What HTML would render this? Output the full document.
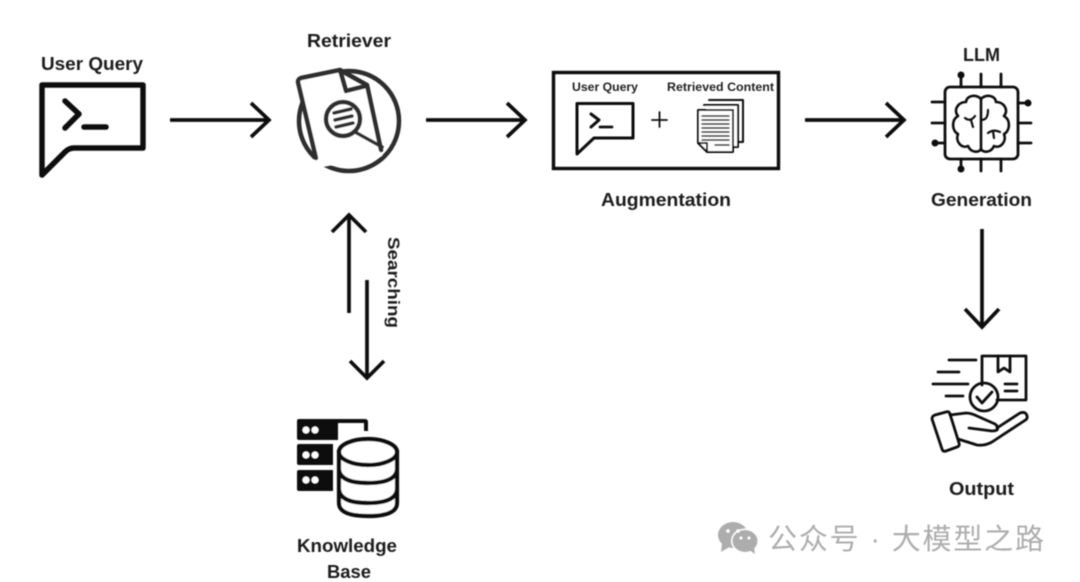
<!DOCTYPE html>
<html lang="en">
<head>
<meta charset="utf-8">
<title>RAG diagram</title>
<style>
html,body{margin:0;padding:0;background:#fff;width:1080px;height:582px;overflow:hidden}
svg{display:block}
.l{font-family:"Liberation Sans",sans-serif;font-weight:700;fill:#1c1c1c;font-size:18px}
.s{font-family:"Liberation Sans",sans-serif;font-weight:700;fill:#222;font-size:11.5px}
.w{font-family:"Liberation Sans","Noto Sans CJK SC",sans-serif;fill:#adadad;font-size:29px}
</style>
</head>
<body>
<svg width="1080" height="582" viewBox="0 0 1080 582" xmlns="http://www.w3.org/2000/svg">
<defs><filter id="b" x="-2%" y="-2%" width="104%" height="104%"><feGaussianBlur stdDeviation="0.45"/></filter></defs>
<rect width="1080" height="582" fill="#fff"/>
<g filter="url(#b)">
<!-- labels -->
<text class="l" x="41" y="70" textLength="102" lengthAdjust="spacingAndGlyphs">User Query</text>
<text class="l" x="307" y="47" textLength="84" lengthAdjust="spacingAndGlyphs">Retriever</text>
<text class="l" x="963" y="61" textLength="37" lengthAdjust="spacingAndGlyphs">LLM</text>
<text class="l" x="601" y="206" textLength="130" lengthAdjust="spacingAndGlyphs">Augmentation</text>
<text class="l" x="931" y="206" textLength="101" lengthAdjust="spacingAndGlyphs">Generation</text>
<text class="l" x="949" y="495" textLength="65" lengthAdjust="spacingAndGlyphs">Output</text>
<text class="l" x="297" y="552" textLength="100" lengthAdjust="spacingAndGlyphs">Knowledge</text>
<text class="l" x="327" y="578" textLength="44" lengthAdjust="spacingAndGlyphs">Base</text>
<text class="l" transform="translate(388,237) rotate(90)" textLength="91" lengthAdjust="spacingAndGlyphs" style="font-size:17px">Searching</text>

<!-- user query icon -->
<g fill="none" stroke="#111" stroke-linejoin="round" stroke-linecap="round">
<path d="M42 85H143V148H74Q69 148 65 152L42 175Z" stroke-width="5.500"/>
<path d="M65 101L79 114L65 128" stroke-width="5.500"/>
<path d="M84 127H106" stroke-width="5.500"/>
</g>

<!-- main arrows -->
<g fill="none" stroke="#111" stroke-width="3.700">
<path d="M170 120H269M251 103L269 120L251 137"/>
<path d="M426 120H525M507 103L525 120L507 137"/>
<path d="M805 120H904M886 103L904 120L886 137"/>
<path d="M982 229V327M965 309L982 327L999 309"/>
<path d="M349 313V215M332 232L349 215L366 232"/>
<path d="M367 280V378M350 361L367 378L384 361"/>
</g>

<!-- retriever -->
<g fill="none" stroke="#2f2f2f" stroke-linejoin="round" stroke-linecap="round">
<circle cx="349" cy="121" r="50" stroke-width="4.500"/>
<path d="M301 78L340 70L346 91L366 85L382 156L316 168L298 82Q298 79 301 78Z" fill="#fff" stroke="none"/>
<path d="M316 158L298 82Q298 79 301 78L340 70L367 85L381 150" stroke-width="4.500"/>
<path d="M340 70L346 91L366 86" stroke-width="4.500"/>
<circle cx="343" cy="119" r="17" stroke-width="4.500"/>
<path d="M334 113L351 109M335 120L352 116M336 127L353 123" stroke-width="3.500"/>
<path d="M355 132L382 147" stroke-width="3.500"/>
</g>

<!-- augmentation box -->
<rect x="553.500" y="72.500" width="225" height="96" fill="none" stroke="#111" stroke-width="3.400"/>
<text class="s" x="572" y="91" textLength="66" lengthAdjust="spacingAndGlyphs">User Query</text>
<text class="s" x="667" y="91" textLength="107" lengthAdjust="spacingAndGlyphs">Retrieved Content</text>
<g fill="none" stroke="#111" stroke-linejoin="round" stroke-linecap="round">
<path d="M577 103.500H633V138H594L577 154Z" stroke-width="3"/>
<path d="M591 114L599 120L591 127" stroke-width="3"/>
<path d="M600 127H612" stroke-width="2.800"/>
<path d="M652 120H667M659.500 112V127" stroke-width="1.800"/>
<path d="M709 100H743V142H738" stroke-width="2"/>
<path d="M704 105H738V147H733" stroke-width="2" fill="#fff"/>
<path d="M698 110H733V152H707L698 143Z" stroke-width="2" fill="#fff"/>
<path d="M698 143H707V152" stroke-width="2"/>
<path d="M702 116H729M702 120H729M702 124H729M702 128H729M702 132H729M702 136H729M702 140H729M715 145H729" stroke-width="1.500"/>
</g>

<!-- LLM chip -->
<g fill="none" stroke="#111" stroke-width="2.800" stroke-linejoin="round" stroke-linecap="round">
<rect x="945" y="87" width="73" height="72" rx="5"/>
<path d="M961 75V87M981 74V87M1001 74V87M961 159V169M981 159V171M1001 159V171"/>
<path d="M932 102H945M932 123H945M935 143H945M1018 103H1028M1018 123H1031M1018 143H1031"/>
<path d="M981 98V150" stroke-width="2.600"/>
<path d="M981 99C976 94 967 95 966 102C958 102 953 110 958 116C951 120 952 131 958 134C955 142 962 149 968 146C971 153 979 153 981 149" stroke-width="2.600"/>
<path d="M981 99C986 94 995 95 996 102C1004 102 1009 110 1004 116C1011 120 1010 131 1004 134C1007 142 1000 149 994 146C991 153 983 153 981 149" stroke-width="2.600"/>
<path d="M965 118C969 121 972 120 975 116M971 120L973 127M988 110C988 117 986 120 981 120M988 133C992 130 996 130 1000 132M993 131L994 138" stroke-width="2.200"/>
</g>
<g fill="#111">
<circle cx="961" cy="75" r="3.500"/><circle cx="1028" cy="103" r="3.500"/><circle cx="935" cy="143" r="3.500"/><circle cx="961" cy="169" r="3.500"/>
</g>

<!-- output icon -->
<g fill="none" stroke="#111" stroke-width="2.800" stroke-linejoin="round" stroke-linecap="round">
<path d="M982 385V356H1026V400H997"/>
<path d="M998 356V372L1004 368L1010 372V356"/>
<path d="M949 360H976M938 372H959M933 384H968M946 396H963M1005 384H1017M1005 391H1017"/>
<circle cx="984" cy="397" r="14"/>
<path d="M977 397L982 403L992 392"/>
<path d="M935 415L946 412Q949 411 950 414L959 443Q960 446 957 447L946 451Q943 452 942 449L932 419Q932 416 935 415Z"/>
<path d="M950 415L966 413Q971 413 977 416L995 424Q999 427 997 430Q995 431 992 431L969 428"/>
<path d="M997 428L1020 413Q1026 411 1027 416Q1028 419 1024 421L992 442Q985 446 977 445L958 439"/>
</g>

<!-- knowledge base -->
<g fill="#111">
<path d="M299 419H365Q368 419 368 422V431H364V423H338V440H299Q297 440 297 438V421Q297 419 299 419Z"/>
<path d="M299 444H333V465H299Q297 465 297 463V446Q297 444 299 444Z"/>
<path d="M299 470H333V491H299Q297 491 297 489V472Q297 470 299 470Z"/>
</g>
<g fill="#fff">
<circle cx="306" cy="430" r="3.500"/><circle cx="315" cy="430" r="3.500"/>
<circle cx="306" cy="455" r="3.500"/><circle cx="315" cy="455" r="3.500"/>
<circle cx="306" cy="480" r="3.500"/><circle cx="315" cy="480" r="3.500"/>
</g>
<g stroke="#111" stroke-width="4.200" fill="#fff">
<path d="M339 452V503Q339 516 368 516Q397 516 397 503V452Z"/>
<ellipse cx="368" cy="452" rx="29" ry="13"/>
<path d="M339 470Q341 483 368 483Q395 483 397 470M339 490Q341 503 368 503Q395 503 397 490" fill="none"/>
</g>

<!-- watermark -->
<g fill="#adadad">
<ellipse cx="733" cy="535" rx="15" ry="13"/>
<path d="M722 543L721 552L731 546Z"/>
</g>
<ellipse cx="745" cy="541" rx="14" ry="12.500" fill="#fff"/>
<ellipse cx="745" cy="541" rx="12.500" ry="11" fill="#adadad"/>
<path d="M749 550L755 554L754 546Z" fill="#adadad"/>
<g fill="#fff"><circle cx="728" cy="531" r="1.800"/><circle cx="738" cy="531" r="1.800"/><circle cx="741" cy="538" r="1.500"/><circle cx="749" cy="538" r="1.500"/></g>
<text class="w" x="768" y="549" textLength="276">公众号 · 大模型之路</text>
</g>
</svg>
</body>
</html>
